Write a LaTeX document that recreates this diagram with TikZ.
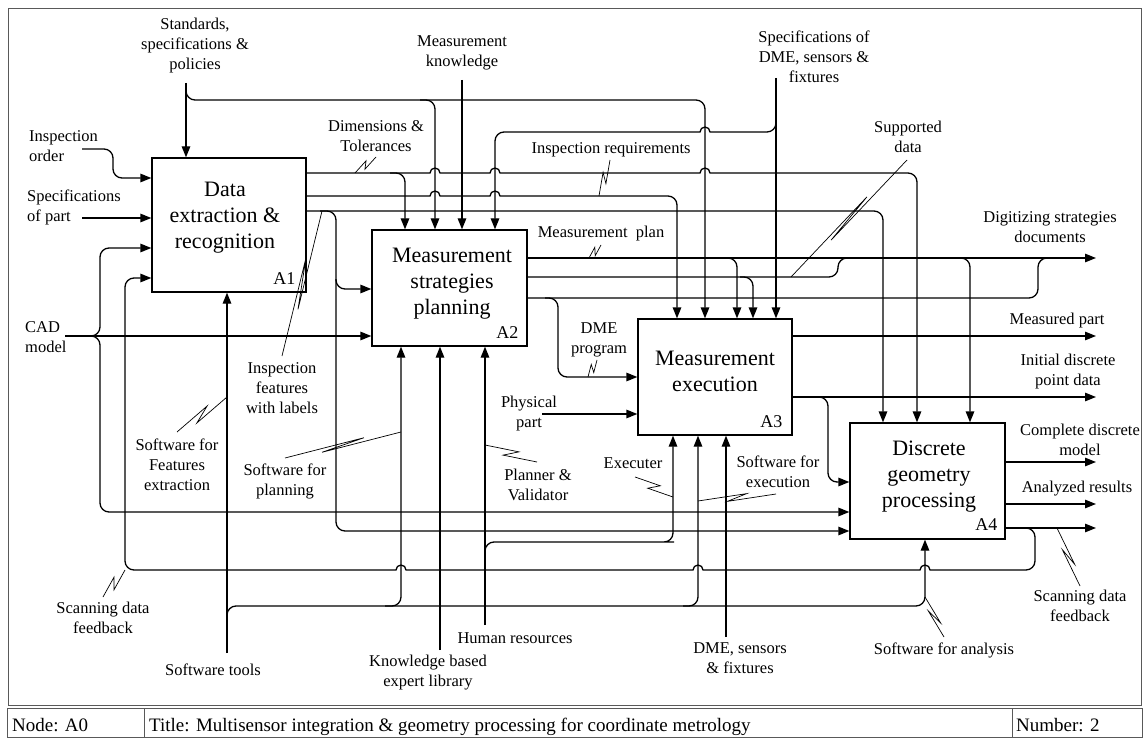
\documentclass[tikz,border=0pt]{standalone}
\usepackage{fontspec}
\setmainfont{Liberation Serif}
\usetikzlibrary{arrows.meta,calc}

% line jumps over a vertical line at x=#1, y=#2
\newcommand{\hopR}[2]{[sharp corners] -- (#1-5,#2) arc[start angle=180,end angle=0,radius=5pt] -- (#1+7,#2) [rounded corners=9pt]}
\newcommand{\hopL}[2]{[sharp corners] -- (#1+5,#2) arc[start angle=0,end angle=180,radius=5pt] -- (#1-7,#2) [rounded corners=9pt]}
% squiggle from label #1 to arrow #2, zigzag half length #3, offset #4
\newcommand{\squig}[4]{%
  \coordinate (sqA) at #1; \coordinate (sqB) at #2;
  \coordinate (sqM) at ($(sqA)!0.5!(sqB)$);
  \coordinate (sqP) at ($(sqM)!#3!(sqB)$);
  \coordinate (sqQ) at ($(sqM)!#3!(sqA)$);
  \draw[squiggle] (sqA) -- ($(sqP)!#4!90:(sqB)$) -- ($(sqQ)!#4!90:(sqA)$) -- (sqB);}

\tikzset{
  flow/.style={line width=1.3pt, rounded corners=9pt, -{Triangle[length=11pt,width=8.5pt]}},
  link/.style={line width=1.3pt, rounded corners=9pt},
  box/.style={draw, line width=1.3pt, inner sep=0pt},
  boxtext/.style={align=center, inner sep=0pt, anchor=base, font=\fontsize{22}{26}\selectfont},
  lbl/.style={align=center, inner sep=0pt, anchor=base, font=\fontsize{16.5}{20}\selectfont},
  num/.style={inner sep=0pt, anchor=base east, font=\fontsize{18}{20}\selectfont},
  cell/.style={inner sep=0pt, anchor=base west, font=\fontsize{19}{22}\selectfont},
  squiggle/.style={line width=0.7pt},
  frame/.style={draw=black!65, line width=1pt},
}

\begin{document}
\begin{tikzpicture}[x=1pt,y=-1pt]
\useasboundingbox (0,0) rectangle (1146,738);

% frame and title block
\draw[frame] (8,9) rectangle (1141,705);
\draw[frame] (7,708) rectangle (1142,737.5);
\draw[frame] (144,708) -- (144,737.5);
\draw[frame] (1012,708) -- (1012,737.5);
\node[cell] (nodecell) at (12,731) {Node: A0};
\node[cell] (titlecell) at (149,731) {Title: Multisensor integration \& geometry processing for coordinate metrology};
\node[cell] (numcell) at (1016,731) {Number: 2};

% activity boxes (text nodes sit on the last baseline)
\node[box, minimum width=154pt, minimum height=134pt] (A1) at (229,225) {};
\node[box, minimum width=155pt, minimum height=116pt] (A2) at (449.5,288) {};
\node[box, minimum width=154pt, minimum height=116pt] (A3) at (715,377) {};
\node[box, minimum width=155pt, minimum height=116pt] (A4) at (927.5,481) {};
\node[boxtext] (A1txt) at (225,249) {Data\\extraction \&\\recognition};
\node[boxtext] (A2txt) at (452,314) {Measurement\\strategies\\planning};
\node[boxtext] (A3txt) at (715,391) {Measurement\\execution};
\node[boxtext] (A4txt) at (929,507) {Discrete\\geometry\\processing};
\node[num] (A1num) at ($(A1.south east)+(-11,-8)$) {A1};
\node[num] (A2num) at ($(A2.south east)+(-9,-8)$) {A2};
\node[num] (A3num) at ($(A3.south east)+(-10,-8)$) {A3};
\node[num] (A4num) at ($(A4.south east)+(-8,-9)$) {A4};

% inputs of A1
\draw[flow] (82,149) -| (113,178) -- (A1.west |- 0,178);
\draw[flow] (82,218) -- (A1.west |- 0,218);
\draw[flow] (65,336) -- (A2.west |- 0,336);
\draw[flow] (88,336) -| (100,248) -- (A1.west |- 0,248);
\draw[flow] (88,336) -| (100,512) -- (A4.west |- 0,512);

% controls
\draw[flow] (186,83) -- (A1.north -| 186,0);
\draw[flow] (186,90) |- (705,100) -- (A3.north -| 705,0);
\draw[flow] (420,100) -| (A2.north -| 435,0);
\draw[flow] (462,80) -- (A2.north -| 462,0);
\draw[flow] (776,78) -- (A3.north -| 776,0);
\draw[flow] (776,122) |- (720,132) \hopL{705}{132} -- (495,132) -- (A2.north -| 495,0);

% outputs of A1
\draw[flow] (A1.east |- 0,173) -| (A2.north -| 405,0);
\draw[flow] (390,173) \hopR{435}{173} \hopR{495}{173} \hopR{705}{173} -- (917,173) -- (A4.north -| 917,0);
\draw[flow] (A1.east |- 0,196) \hopR{435}{196} \hopR{495}{196} -- (677,196) -- (A3.north -| 677,0);
\draw[flow] (A1.east |- 0,211) -- (883,211) -- (A4.north -| 883,0);
\draw[flow] (320,211) -| (336,531) -- (A4.west |- 0,531);
\draw[flow] (336,279) |- (A2.west |- 0,289);

% outputs of A2
\draw[flow] (A2.east |- 0,258) -- (1096,258);
\draw[flow] (725,258) -| (A3.north -| 737,0);
\draw[flow] (955,258) -| (A4.north -| 970,0);
\draw[link] (A2.east |- 0,277) -| (838,258) -- (855,258);
\draw[flow] (740,277) -| (A3.north -| 753,0);
\draw[link] (A2.east |- 0,298) -| (1038,258) -- (1055,258);
\draw[flow] (545,298) -| (558,377) -- (A3.west |- 0,377);

% A3 and A4
\draw[flow] (542,414) -- (A3.west |- 0,414);
\draw[flow] (A3.east |- 0,336) -- (1096,336);
\draw[flow] (A3.east |- 0,397) -- (1096,397);
\draw[flow] (815,397) -| (828,482) -- (A4.west |- 0,482);
\draw[flow] (A4.east |- 0,462) -- (1096,462);
\draw[flow] (A4.east |- 0,504) -- (1096,504);
\draw[flow] (A4.east |- 0,528) -- (1096,528);
\draw[flow] (1010,528) -| (1035,570) -- (940,570) \hopL{925}{570} -- (713,570) \hopL{698}{570} -- (416,570) \hopL{401}{570} -- (125,570) |- (A1.west |- 0,278);

% mechanisms
\draw[flow] (227,653) -- (A1.south -| 227,0);
\draw[flow] (227,616) |- (925,606) -- (A4.south -| 925,0);
\draw[flow] (385,606) -| (A2.south -| 401,0);
\draw[flow] (683,606) -| (A3.south -| 698,0);
\draw[flow] (440,650) -- (A2.south -| 440,0);
\draw[flow] (485,625) -- (A2.south -| 485,0);
\draw[flow] (485,552) |- (665,542) -| (A3.south -| 673,0);
\draw[flow] (726,637) -- (A3.south -| 726,0);

% labels (placed on their last baseline)
\node[lbl] (stdlbl) at (195,70) {Standards,\\specifications \&\\policies};
\node[lbl] (mklbl) at (462,67) {Measurement\\knowledge};
\node[lbl] (dmespec) at (814,83) {Specifications of\\DME, sensors \&\\fixtures};
\node[lbl, align=left, anchor=base west] (orderlbl) at (29,162) {Inspection\\order};
\node[lbl, align=left, anchor=base west] (partspec) at (27,222) {Specifications\\of part};
\node[lbl, align=left, anchor=base west] (cadlbl) at (25,352) {CAD\\model};
\node[lbl] (dimlbl) at (376,152) {Dimensions \&\\Tolerances};
\node[lbl] (reqlbl) at (611,154) {Inspection requirements};
\node[lbl] (supplbl) at (908,153) {Supported\\data};
\node[lbl] (diglbl) at (1050,243) {Digitizing strategies\\documents};
\node[lbl] (planlbl) at (601,238) {Measurement~ plan};
\node[lbl] (mplbl) at (1057,324) {Measured part};
\node[lbl] (initlbl) at (1068,385) {Initial discrete\\point data};
\node[lbl] (dmeprog) at (599,353) {DME\\program};
\node[lbl] (physlbl) at (529,427) {Physical\\part};
\node[lbl] (featlbl) at (282,413) {Inspection\\features\\with labels};
\node[lbl] (cdmlbl) at (1080,455) {Complete discrete\\model};
\node[lbl] (swfeat) at (177,490) {Software for\\Features\\extraction};
\node[lbl] (swplan) at (285,495) {Software for\\planning};
\node[lbl] (pvlbl) at (538,500) {Planner \&\\Validator};
\node[lbl] (exelbl) at (633,468) {Executer};
\node[lbl] (swexe) at (778,487) {Software for\\execution};
\node[lbl] (anlbl) at (1077,492) {Analyzed results};
\node[lbl] (scanR) at (1080,621) {Scanning data\\feedback};
\node[lbl] (scanL) at (103,633) {Scanning data\\feedback};
\node[lbl] (swtools) at (213,675) {Software tools};
\node[lbl] (kblbl) at (428,686) {Knowledge based\\expert library};
\node[lbl] (hrlbl) at (515,643) {Human resources};
\node[lbl] (dmelbl) at (740,673) {DME, sensors\\\& fixtures};
\node[lbl] (swan) at (944,654) {Software for analysis};

% squiggles
\squig{(376,157)}{(355,173)}{3pt}{3pt}
\squig{(610,160)}{(599,196)}{5pt}{3pt}
\squig{(282,356)}{(322,211)}{26pt}{3pt}
\squig{(601,245)}{(589,258)}{3pt}{3pt}
\squig{(597,360)}{(588,377)}{3pt}{3pt}
\squig{(907,160)}{(791,277)}{28pt}{2.5pt}
\squig{(177,432)}{(227,397)}{9pt}{4pt}
\squig{(285,458)}{(401,432)}{22pt}{2.5pt}
\squig{(537,462)}{(485,445)}{7pt}{4pt}
\squig{(635,477)}{(673,497)}{5pt}{4pt}
\squig{(776,494)}{(698,501)}{10pt}{3pt}
\squig{(103,597)}{(125,570)}{5pt}{4pt}
\squig{(1080,586)}{(1057,528)}{9pt}{3pt}
\squig{(944,637)}{(925,597)}{8pt}{3pt}

\end{tikzpicture}
\end{document}
